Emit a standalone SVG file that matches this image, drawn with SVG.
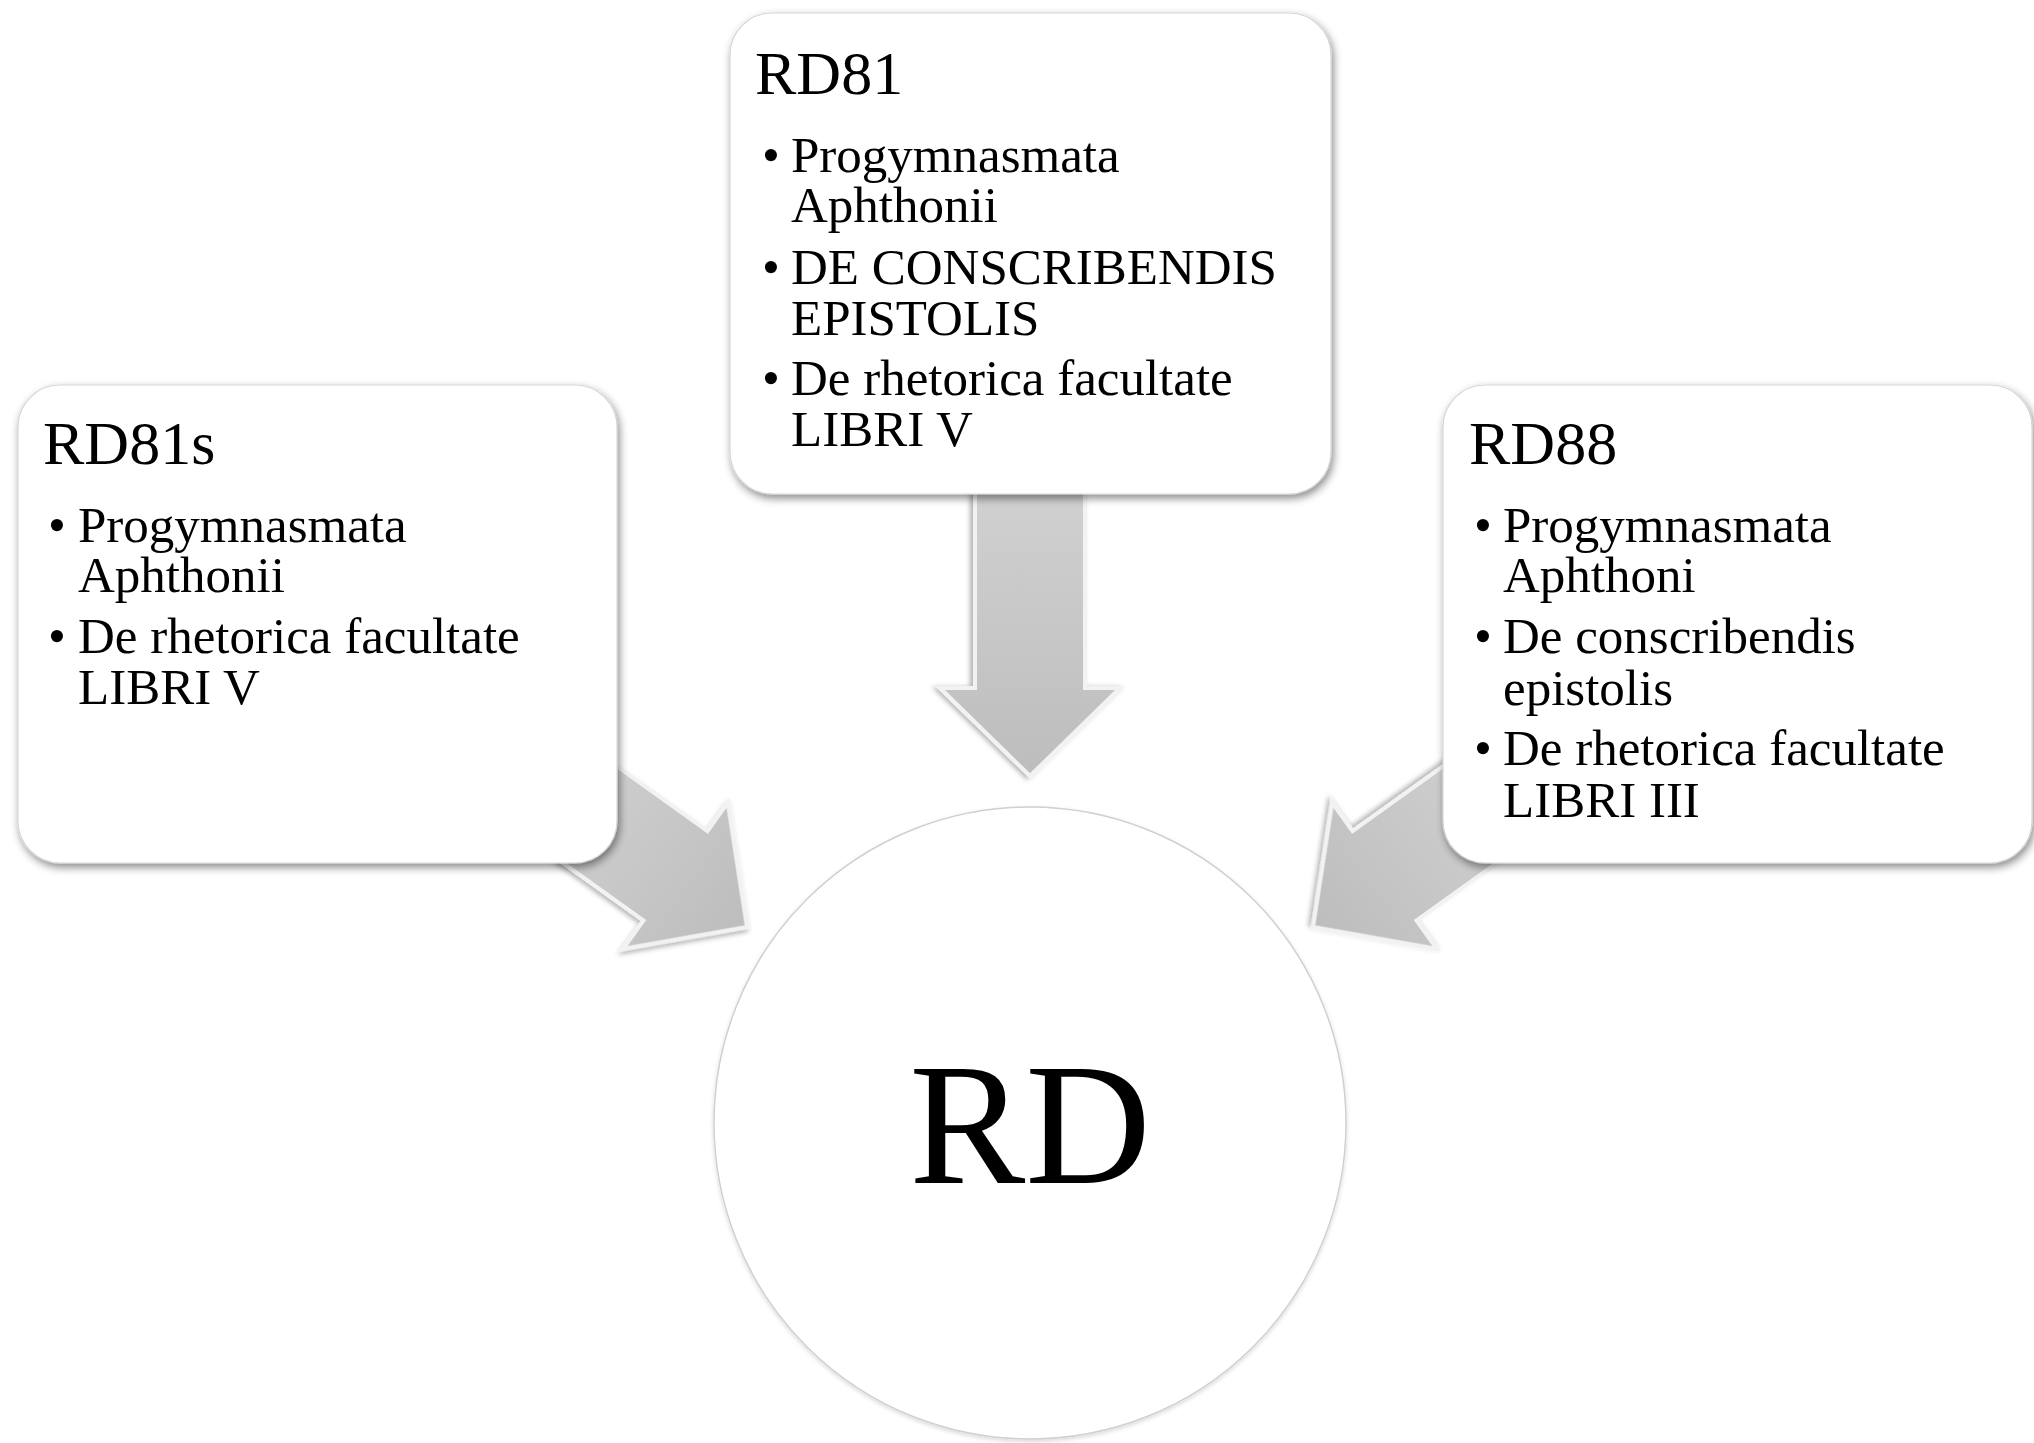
<svg xmlns="http://www.w3.org/2000/svg" width="2034" height="1443" viewBox="0 0 2034 1443">
<defs>
<style>
.box{fill:#ffffff;stroke:#d6d6d6;stroke-width:1.2;filter:url(#boxShadow)}
.circ{fill:#ffffff;stroke:#d0d0d0;stroke-width:1.5;filter:url(#circShadow)}
.arrow{fill:url(#arrowGrad);stroke:#f2f2f2;stroke-width:4;stroke-linejoin:miter;filter:url(#arrowShadow)}
.arrowEdge{fill:none;stroke:#a9a9a9;stroke-width:1}
.title{font-family:"Liberation Serif","Times New Roman",serif;font-size:62px;fill:#000}
.item{font-family:"Liberation Serif","Times New Roman",serif;font-size:51px;fill:#000}
.big{font-family:"Liberation Serif","Times New Roman",serif;font-size:174px;fill:#000;text-anchor:middle}
</style>
<linearGradient id="arrowGrad" x1="0" y1="0" x2="1" y2="0">
<stop offset="0" stop-color="#d2d2d2"/>
<stop offset="1" stop-color="#bdbdbd"/>
</linearGradient>
<filter id="boxShadow" x="-10%" y="-10%" width="120%" height="125%">
<feDropShadow dx="2" dy="4" stdDeviation="4" flood-color="#000" flood-opacity="0.45"/>
</filter>
<filter id="arrowShadow" x="-20%" y="-20%" width="140%" height="140%">
<feDropShadow dx="1" dy="3" stdDeviation="2.5" flood-color="#000" flood-opacity="0.3"/>
</filter>
<filter id="circShadow" x="-10%" y="-10%" width="120%" height="120%">
<feDropShadow dx="0" dy="2" stdDeviation="2" flood-color="#000" flood-opacity="0.15"/>
</filter>
</defs>
<rect width="2034" height="1443" fill="#ffffff"/>

<g id="connectors">
<path class="arrow" transform="translate(1030,776) rotate(90)" d="M0,0 L-88,-90 L-88,-55 L-310,-55 L-310,55 L-88,55 L-88,90 Z"/>
<path class="arrow" transform="translate(747,927) rotate(35.6)" d="M0,0 L-88,-90 L-88,-55 L-260,-55 L-260,55 L-88,55 L-88,90 Z"/>
<path class="arrow" transform="translate(1313,927) rotate(144.4)" d="M0,0 L-88,-90 L-88,-55 L-260,-55 L-260,55 L-88,55 L-88,90 Z"/>
</g>

<g id="node-rd81s">
<rect class="box" x="18" y="385" width="599" height="478" rx="42" ry="42"/>
<text class="title" x="43" y="464">RD81s</text>
<text class="item" x="48" y="542">•</text>
<text class="item" x="78" y="542">Progymnasmata</text>
<text class="item" x="78" y="592">Aphthonii</text>
<text class="item" x="48" y="653">•</text>
<text class="item" x="78" y="653">De rhetorica facultate</text>
<text class="item" x="78" y="704">LIBRI V</text>
</g>

<g id="node-rd81">
<rect class="box" x="730" y="13" width="601" height="481" rx="42" ry="42"/>
<text class="title" x="755" y="94">RD81</text>
<text class="item" x="762" y="172">•</text>
<text class="item" x="791" y="172">Progymnasmata</text>
<text class="item" x="791" y="222">Aphthonii</text>
<text class="item" x="762" y="284">•</text>
<text class="item" x="791" y="284">DE CONSCRIBENDIS</text>
<text class="item" x="791" y="335">EPISTOLIS</text>
<text class="item" x="762" y="395">•</text>
<text class="item" x="791" y="395">De rhetorica facultate</text>
<text class="item" x="791" y="446">LIBRI V</text>
</g>

<g id="node-rd88">
<rect class="box" x="1443" y="385" width="589" height="478" rx="42" ry="42"/>
<text class="title" x="1469" y="464">RD88</text>
<text class="item" x="1474" y="542">•</text>
<text class="item" x="1503" y="542">Progymnasmata</text>
<text class="item" x="1503" y="592">Aphthoni</text>
<text class="item" x="1474" y="653">•</text>
<text class="item" x="1503" y="653">De conscribendis</text>
<text class="item" x="1503" y="705">epistolis</text>
<text class="item" x="1474" y="765">•</text>
<text class="item" x="1503" y="765">De rhetorica facultate</text>
<text class="item" x="1503" y="817">LIBRI III</text>
</g>

<g id="node-rd">
<circle class="circ" cx="1030" cy="1123" r="316"/>
<text class="big" x="1030" y="1183">RD</text>
</g>
</svg>
